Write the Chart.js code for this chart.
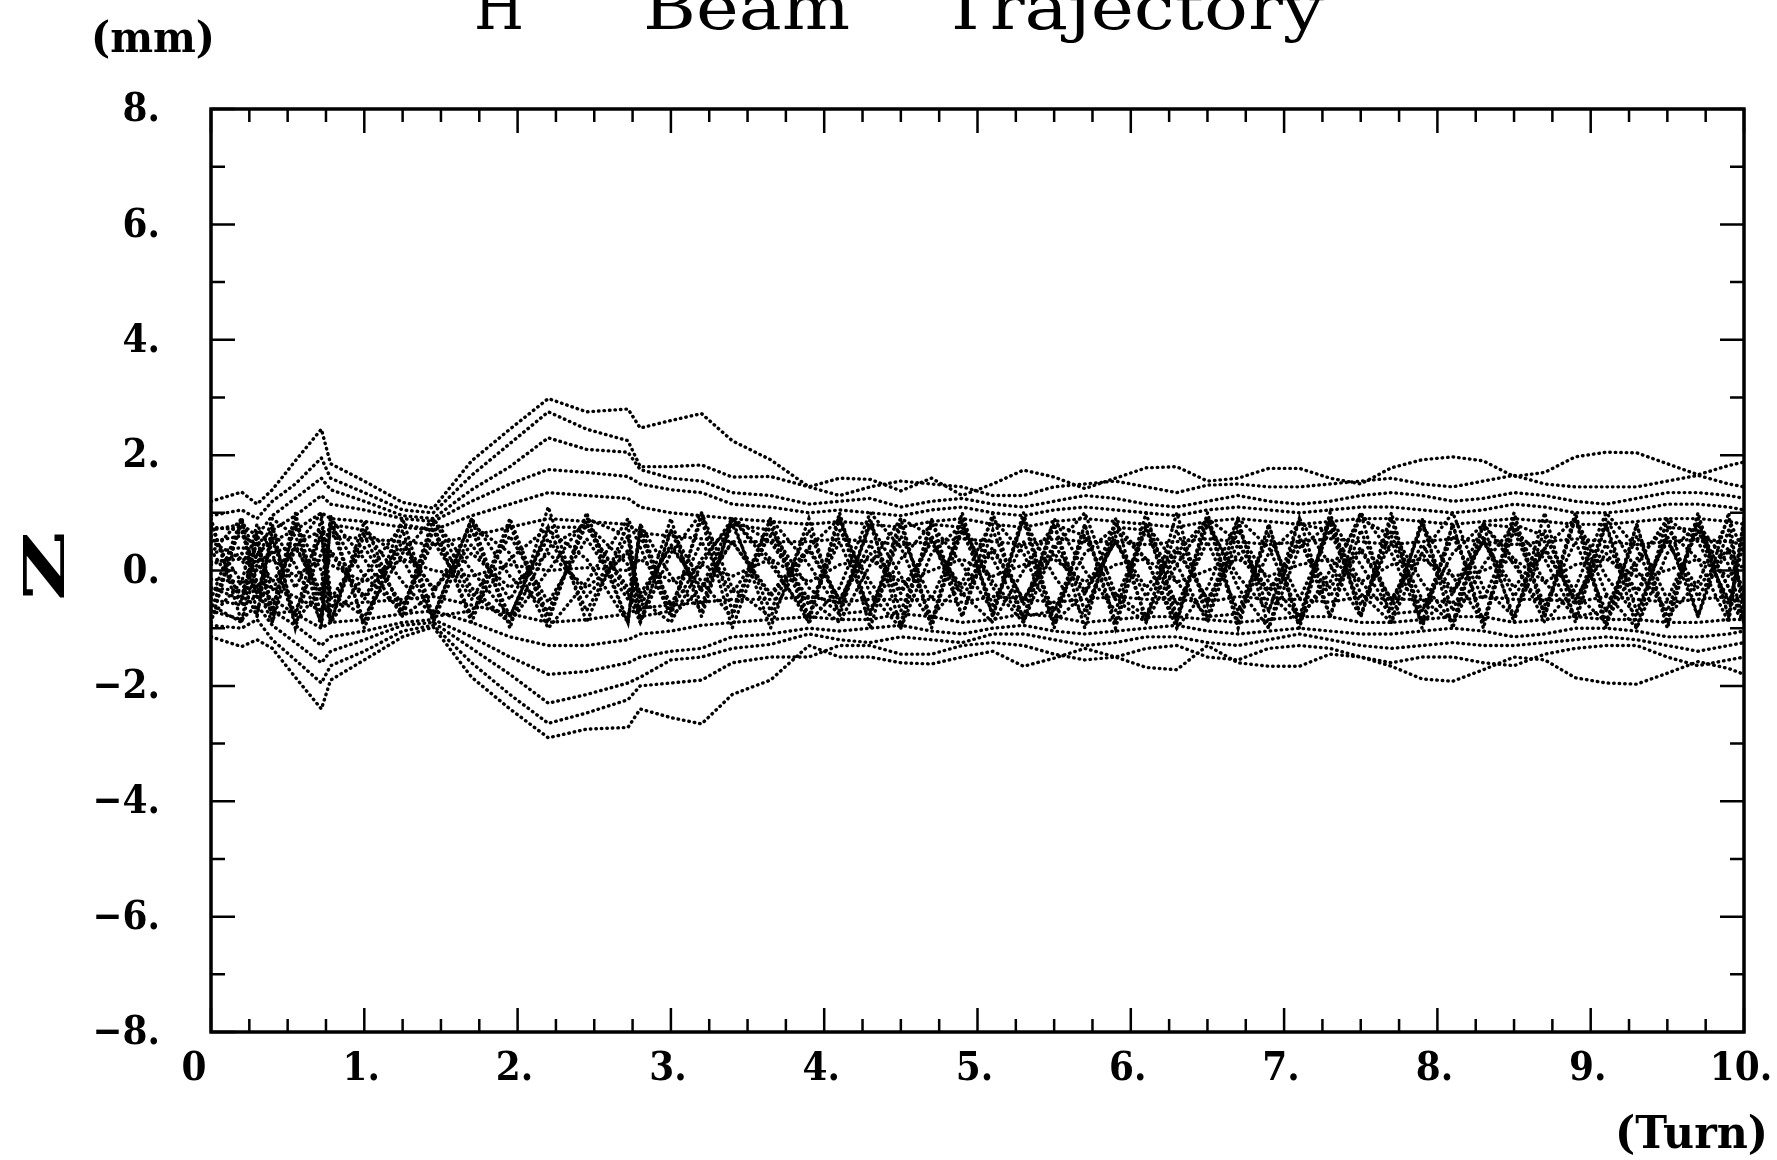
<!DOCTYPE html>
<html>
<head>
<meta charset="utf-8">
<script src="https://cdn.jsdelivr.net/npm/chart.js@4.4.1/dist/chart.umd.min.js"></script>
<style>
html,body{margin:0;padding:0;background:#fff;overflow:hidden;}
canvas{display:block;}
</style>
</head>
<body>
<canvas id="c" width="1777" height="1160"></canvas>
<script>
// ---- data ----
const turns = [0, 0.2, 0.3, 0.4, 0.55, 0.72, 0.78, 1.0, 1.25, 1.45,
  1.7, 1.95, 2.2, 2.45, 2.72, 2.8, 3.0, 3.2, 3.4, 3.65,
  3.9, 4.1, 4.3, 4.5, 4.7, 4.9, 5.1, 5.3, 5.5, 5.7,
  5.9, 6.1, 6.3, 6.5, 6.7, 6.9, 7.1, 7.3, 7.5, 7.7,
  7.9, 8.1, 8.3, 8.5, 8.7, 8.9, 9.1, 9.3, 9.5, 9.7,
  9.9, 10.0];

const upper1 = [1.2, 1.36, 1.15, 1.4, 1.9, 2.45, 1.85, 1.55, 1.18, 1.08,
  1.9, 2.45, 2.98, 2.75, 2.8, 2.47, 2.6, 2.72, 2.25, 1.92,
  1.45, 1.6, 1.58, 1.38, 1.6, 1.3, 1.5, 1.74, 1.62, 1.42,
  1.6, 1.78, 1.8, 1.55, 1.6, 1.77, 1.77, 1.6, 1.5, 1.78,
  1.92, 1.97, 1.9, 1.63, 1.7, 1.97, 2.05, 2.04, 1.85, 1.66,
  1.82, 1.88];
const lower1 = [-1.15, -1.32, -1.2, -1.35, -1.85, -2.4, -1.9, -1.55, -1.15, -0.98,
  -1.85, -2.4, -2.9, -2.75, -2.72, -2.4, -2.55, -2.66, -2.15, -1.9,
  -1.3, -1.5, -1.5, -1.6, -1.62, -1.5, -1.4, -1.66, -1.52, -1.35,
  -1.5, -1.68, -1.72, -1.3, -1.6, -1.66, -1.66, -1.45, -1.5, -1.66,
  -1.88, -1.92, -1.72, -1.5, -1.55, -1.86, -1.95, -1.97, -1.78, -1.58,
  -1.7, -1.8];
const upper2 = [0.95, 1.05, 0.9, 1.2, 1.5, 1.95, 1.6, 1.35, 1.05, 1.0,
  1.65, 2.2, 2.75, 2.45, 2.25, 1.8, 1.8, 1.83, 1.62, 1.63,
  1.45, 1.3, 1.45, 1.55, 1.5, 1.45, 1.3, 1.3, 1.45, 1.5,
  1.55, 1.45, 1.35, 1.48, 1.5, 1.45, 1.45, 1.5, 1.55, 1.6,
  1.5, 1.45, 1.55, 1.65, 1.5, 1.45, 1.45, 1.45, 1.55, 1.65,
  1.5, 1.45];
const lower2 = [-0.95, -1.0, -0.85, -1.2, -1.55, -1.95, -1.65, -1.4, -1.05, -0.95,
  -1.6, -2.15, -2.65, -2.47, -2.24, -2.0, -1.95, -1.9, -1.6, -1.5,
  -1.5, -1.3, -1.3, -1.45, -1.45, -1.3, -1.25, -1.3, -1.45, -1.55,
  -1.5, -1.35, -1.3, -1.5, -1.55, -1.35, -1.3, -1.35, -1.5, -1.6,
  -1.5, -1.5, -1.6, -1.65, -1.45, -1.35, -1.3, -1.3, -1.5, -1.65,
  -1.55, -1.5];
const upper3 = [0.7, 0.8, 0.6, 0.95, 1.25, 1.6, 1.4, 1.2, 0.95, 0.9,
  1.4, 1.8, 2.3, 2.1, 2.05, 1.75, 1.6, 1.55, 1.35, 1.3,
  1.15, 1.2, 1.25, 1.1, 1.2, 1.25, 1.15, 1.1, 1.2, 1.3,
  1.25, 1.15, 1.1, 1.2, 1.3, 1.2, 1.15, 1.2, 1.3, 1.35,
  1.3, 1.2, 1.25, 1.35, 1.3, 1.2, 1.15, 1.25, 1.35, 1.35,
  1.3, 1.25];
const lower3 = [-0.7, -0.85, -0.6, -0.95, -1.25, -1.6, -1.4, -1.2, -0.95, -0.9,
  -1.35, -1.8, -2.3, -2.15, -1.95, -1.85, -1.55, -1.5, -1.35, -1.28,
  -1.1, -1.2, -1.25, -1.15, -1.2, -1.25, -1.1, -1.1, -1.2, -1.3,
  -1.25, -1.15, -1.15, -1.25, -1.3, -1.2, -1.1, -1.2, -1.3, -1.35,
  -1.3, -1.25, -1.3, -1.3, -1.25, -1.2, -1.15, -1.2, -1.3, -1.4,
  -1.3, -1.25];
const upper4 = [0.5, 0.6, 0.45, 0.7, 0.95, 1.3, 1.15, 1.05, 0.9, 0.85,
  1.2, 1.5, 1.75, 1.7, 1.63, 1.5, 1.4, 1.35, 1.15, 1.1,
  1.0, 1.05, 1.0, 0.95, 1.05, 1.1, 1.0, 0.95, 1.05, 1.1,
  1.05, 1.0, 0.95, 1.05, 1.1, 1.05, 1.0, 1.05, 1.1, 1.1,
  1.05, 1.0, 1.05, 1.15, 1.1, 1.0, 1.0, 1.05, 1.15, 1.15,
  1.1, 1.05];
const lower4 = [-0.5, -0.6, -0.45, -0.7, -0.95, -1.3, -1.15, -1.05, -0.9, -0.85,
  -1.15, -1.5, -1.8, -1.75, -1.6, -1.5, -1.4, -1.35, -1.15, -1.1,
  -1.0, -1.05, -1.0, -0.95, -1.05, -1.1, -1.0, -0.95, -1.05, -1.1,
  -1.05, -1.0, -0.95, -1.05, -1.1, -1.05, -1.0, -1.05, -1.1, -1.1,
  -1.05, -1.0, -1.05, -1.15, -1.1, -1.0, -1.0, -1.05, -1.15, -1.15,
  -1.1, -1.05];
const upper5 = [0.3, 0.4, 0.3, 0.5, 0.7, 1.0, 0.9, 0.85, 0.75, 0.7,
  0.95, 1.15, 1.35, 1.3, 1.25, 1.1, 1.0, 0.95, 0.9, 0.85,
  0.8, 0.85, 0.8, 0.75, 0.85, 0.9, 0.8, 0.75, 0.85, 0.9,
  0.85, 0.8, 0.75, 0.85, 0.9, 0.85, 0.8, 0.85, 0.9, 0.9,
  0.85, 0.8, 0.85, 0.9, 0.85, 0.8, 0.8, 0.85, 0.9, 0.9,
  0.85, 0.8];
const lower5 = [-0.3, -0.35, -0.3, -0.5, -0.75, -1.0, -0.9, -0.85, -0.75, -0.7,
  -0.9, -1.15, -1.3, -1.3, -1.2, -1.1, -1.05, -0.95, -0.9, -0.85,
  -0.8, -0.85, -0.85, -0.75, -0.8, -0.9, -0.85, -0.75, -0.8, -0.9,
  -0.85, -0.8, -0.8, -0.85, -0.9, -0.85, -0.8, -0.8, -0.9, -0.9,
  -0.85, -0.8, -0.8, -0.9, -0.85, -0.8, -0.85, -0.85, -0.9, -0.9,
  -0.85, -0.85];
const upper6 = [0.15, 0.2, 0.15, 0.3, 0.45, 0.7, 0.6, 0.55, 0.5, 0.45,
  0.6, 0.75, 0.9, 0.85, 0.8, 0.65, 0.6, 0.55, 0.5, 0.5,
  0.5, 0.55, 0.5, 0.45, 0.5, 0.55, 0.5, 0.45, 0.55, 0.5,
  0.5, 0.45, 0.5, 0.55, 0.5, 0.45, 0.5, 0.55, 0.5, 0.45,
  0.5, 0.55, 0.5, 0.45, 0.5, 0.55, 0.5, 0.45, 0.5, 0.55,
  0.5, 0.45];
const lower6 = [-0.15, -0.2, -0.2, -0.3, -0.45, -0.7, -0.6, -0.55, -0.5, -0.45,
  -0.6, -0.75, -0.9, -0.85, -0.75, -0.65, -0.6, -0.55, -0.5, -0.5,
  -0.45, -0.55, -0.5, -0.5, -0.5, -0.55, -0.45, -0.5, -0.55, -0.5,
  -0.45, -0.5, -0.5, -0.55, -0.45, -0.5, -0.5, -0.55, -0.45, -0.5,
  -0.5, -0.55, -0.45, -0.5, -0.5, -0.55, -0.45, -0.5, -0.55, -0.5,
  -0.45, -0.5];

const core1 = [0.8, -0.6, 0.7, -0.9, 0.9, -1.0, 0.8, -0.9, 0.9, -0.8,
  0.9, -1.0, 1.1, -0.9, 0.8, -0.7, 0.9, -0.8, 0.9, -1.0,
  0.9, -0.8, 0.9, -1.0, 0.9, -0.8, 1.0, -0.9, 0.8, -1.0,
  0.9, -0.9, 1.0, -0.8, 0.9, -1.0, 0.9, -0.8, 1.0, -0.9,
  0.9, -1.0, 0.8, -0.9, 1.0, -0.9, 0.8, -1.0, 0.9, -0.8,
  1.0, -0.9];
const core2 = [-0.7, 0.8, -0.5, 0.6, -0.8, 0.9, -0.7, 0.6, -0.7, 0.8,
  -0.9, 0.8, -0.9, 1.0, -0.9, 0.8, -0.7, 0.9, -1.0, 0.8,
  -0.9, 1.0, -0.8, 0.9, -1.0, 0.9, -0.8, 1.0, -0.9, 0.8,
  -1.0, 0.8, -0.9, 1.0, -0.9, 0.8, -1.0, 0.9, -0.8, 1.0,
  -0.9, 0.8, -1.0, 0.9, -0.8, 1.0, -0.9, 0.8, -1.0, 0.9,
  -0.8, 0.9];
const core3 = [0.5, 0.2, -0.4, 0.5, -0.3, 0.6, -0.5, 0.4, -0.6, 0.5,
  -0.5, 0.6, -0.55, 0.55, -0.5, 0.6, -0.6, 0.5, -0.4, 0.6,
  -0.6, 0.5, -0.7, 0.6, -0.5, 0.7, -0.6, 0.5, -0.7, 0.6,
  -0.5, 0.7, -0.6, 0.5, -0.7, 0.6, -0.5, 0.7, -0.6, 0.5,
  -0.7, 0.6, -0.5, 0.7, -0.6, 0.5, -0.7, 0.6, -0.5, 0.7,
  -0.6, 0.5];
const core4 = [-0.3, -0.5, 0.3, -0.2, 0.4, -0.4, 0.3, -0.5, 0.4, -0.3,
  0.3, -0.3, 0.3, -0.3, 0.3, -0.4, 0.4, -0.3, 0.5, -0.4,
  0.4, -0.5, 0.3, -0.4, 0.5, -0.3, 0.4, -0.5, 0.3, -0.4,
  0.5, -0.3, 0.4, -0.5, 0.3, -0.4, 0.5, -0.3, 0.4, -0.5,
  0.3, -0.4, 0.5, -0.3, 0.4, -0.5, 0.3, -0.4, 0.5, -0.3,
  0.4, -0.4];
const core5 = [0.1, 0.3, 0.0, 0.2, -0.1, 0.2, 0.1, -0.2, 0.2, 0.0,
  -0.1, 0.1, 0.0, 0.05, 0.0, 0.2, -0.2, 0.1, -0.1, 0.2,
  -0.2, 0.1, 0.2, -0.2, 0.0, 0.2, -0.1, 0.1, 0.2, -0.2,
  0.1, 0.2, -0.2, 0.0, 0.2, -0.1, 0.1, 0.2, -0.2, 0.1,
  0.2, -0.1, 0.0, 0.2, -0.2, 0.1, 0.2, -0.1, 0.0, 0.2,
  -0.1, 0.1];
const core6 = [0.9, -0.9, 0.6, -0.7, 1.0, -0.8, 0.95, -1.0, 0.7, -0.9,
  0.7, -0.8, 0.75, -0.7, 0.6, -0.9, 0.7, -0.6, 0.8, -0.7,
  0.7, -0.6, 0.8, -0.7, 0.6, -0.8, 0.7, -0.6, 0.8, -0.7,
  0.6, -0.8, 0.7, -0.6, 0.8, -0.7, 0.6, -0.8, 0.7, -0.6,
  0.8, -0.7, 0.6, -0.8, 0.7, -0.6, 0.8, -0.7, 0.6, -0.8,
  0.7, -0.6];
const core7 = [-0.9, 0.9, -0.8, 0.8, -1.0, 0.7, -0.9, 0.85, -0.8, 0.7,
  -0.8, 0.9, -0.8, 0.85, -0.9, 0.7, -0.8, 1.0, -0.7, 0.9,
  -0.8, 0.9, -1.0, 0.8, -0.9, 1.0, -0.8, 0.9, -1.0, 0.8,
  -0.9, 1.0, -0.8, 0.9, -1.0, 0.8, -0.9, 1.0, -0.8, 0.9,
  -1.0, 0.8, -0.9, 1.0, -0.8, 0.9, -1.0, 0.8, -0.9, 1.0,
  -0.8, 0.9];
const core8 = [0.6, -0.2, -0.8, 0.7, 0.1, -0.9, 0.8, -0.1, -0.7, 0.9,
  0.0, -0.8, 0.7, 0.2, -0.9, 0.8, -0.1, -0.7, 0.9, 0.1,
  -0.8, 0.7, -0.2, -0.9, 0.8, 0.1, -0.7, 0.9, -0.1, -0.8,
  0.7, 0.2, -0.9, 0.8, -0.1, -0.7, 0.9, 0.1, -0.8, 0.7,
  -0.2, -0.9, 0.8, 0.1, -0.7, 0.9, -0.1, -0.8, 0.7, 0.2,
  -0.9, 0.8];
const core9 = [-0.5, 0.9, 0.2, -0.7, 0.8, 0.0, -0.9, 0.7, 0.2, -0.8,
  0.9, -0.1, -0.7, 0.8, 0.1, -0.9, 0.7, -0.2, -0.8, 0.9,
  0.1, -0.7, 0.8, -0.1, -0.9, 0.7, 0.2, -0.8, 0.9, 0.0,
  -0.7, 0.8, 0.1, -0.9, 0.7, -0.2, -0.8, 0.9, 0.1, -0.7,
  0.8, -0.1, -0.9, 0.7, 0.2, -0.8, 0.9, 0.0, -0.7, 0.8,
  0.1, -0.9];
const core10 = [0.3, 0.9, -0.3, -0.9, 0.4, 1.0, -0.4, -0.8, 0.3, 0.9,
  -0.3, -0.9, 0.4, 0.8, -0.4, -0.9, 0.3, 1.0, -0.3, -0.8,
  0.4, 0.9, -0.4, -1.0, 0.3, 0.8, -0.3, -0.9, 0.4, 1.0,
  -0.4, -0.8, 0.3, 0.9, -0.3, -1.0, 0.4, 0.8, -0.4, -0.9,
  0.3, 1.0, -0.3, -0.8, 0.4, 0.9, -0.4, -1.0, 0.3, 0.8,
  -0.3, -0.9];
const core11 = [-0.8, -0.2, 0.8, 0.3, -0.9, -0.3, 0.9, 0.2, -0.8, -0.4,
  0.8, 0.3, -1.0, -0.2, 0.9, 0.4, -0.8, -0.3, 0.9, 0.2,
  -0.9, -0.3, 1.0, 0.4, -0.8, -0.2, 0.9, 0.3, -0.9, -0.4,
  0.8, 0.2, -1.0, -0.3, 0.9, 0.4, -0.8, -0.2, 1.0, 0.3,
  -0.9, -0.4, 0.8, 0.2, -0.9, -0.3, 1.0, 0.4, -0.8, -0.2,
  0.9, 0.3];
const core12 = [0.35, -0.45, 0.5, -0.35, 0.45, -0.5, 0.35, -0.45, 0.5, -0.35,
  0.45, -0.5, 0.55, -0.45, 0.35, -0.5, 0.45, -0.35, 0.5, -0.45,
  0.35, -0.5, 0.45, -0.35, 0.5, -0.45, 0.35, -0.5, 0.45, -0.35,
  0.5, -0.45, 0.35, -0.5, 0.45, -0.35, 0.5, -0.45, 0.35, -0.5,
  0.45, -0.35, 0.5, -0.45, 0.35, -0.5, 0.45, -0.35, 0.5, -0.45,
  0.35, -0.5];
const core13 = [0.75, 0.7, -0.2, -0.75, -0.7, 0.3, 0.8, 0.7, -0.2, -0.8,
  -0.7, 0.2, 0.75, 0.75, -0.3, -0.8, -0.7, 0.2, 0.8, 0.7,
  -0.3, -0.75, -0.7, 0.2, 0.8, 0.75, -0.2, -0.8, -0.7, 0.3,
  0.75, 0.7, -0.2, -0.8, -0.75, 0.3, 0.8, 0.7, -0.2, -0.75,
  -0.7, 0.3, 0.8, 0.75, -0.2, -0.8, -0.7, 0.2, 0.75, 0.7,
  -0.3, -0.8];
const core14 = [-0.6, -0.9, 0.1, 0.9, 0.6, -0.4, -0.9, -0.1, 0.8, 0.7,
  -0.4, -0.9, 0.0, 0.9, 0.6, -0.5, -0.9, 0.1, 0.9, 0.5,
  -0.5, -0.9, 0.1, 0.9, 0.6, -0.4, -0.9, 0.0, 0.8, 0.6,
  -0.5, -0.9, 0.1, 0.9, 0.5, -0.4, -0.9, 0.0, 0.9, 0.6,
  -0.5, -0.9, 0.1, 0.8, 0.6, -0.4, -0.9, 0.1, 0.9, 0.5,
  -0.5, -0.9];

const xTickValues = [0, 1, 2, 3, 4, 5, 6, 7, 8, 9, 10];
const xTickLabels = ["0", "1.", "2.", "3.", "4.", "5.", "6.", "7.", "8.", "9.", "10."];
const yTickValues = [8, 6, 4, 2, 0, -2, -4, -6, -8];
const yTickLabels = ["8.", "6.", "4.", "2.", "0.", "\u22122.", "\u22124.", "\u22126.", "\u22128."];

const traces = [upper1, lower1, upper2, lower2, upper3, lower3, upper4, lower4,
  upper5, lower5, upper6, lower6,
  core1, core2, core3, core4, core5, core6, core7, core8, core9, core10,
  core11, core12, core13, core14];

const datasets = traces.map(ys => ({
  data: ys.map((y, i) => ({x: turns[i], y: y})),
  borderColor: '#000',
  borderWidth: 3.4,
  borderDash: [0.5, 5],
  borderCapStyle: 'round',
  pointRadius: 0,
  tension: 0,
  fill: false
}));

const SERIF = '"DejaVu Serif", "Liberation Serif", serif';

function fitText(ctx, txt, font, left, baseline, width) {
  ctx.save();
  ctx.font = font;
  ctx.textAlign = 'left';
  ctx.textBaseline = 'alphabetic';
  const w = ctx.measureText(txt).width;
  ctx.translate(left, baseline);
  ctx.scale(width / w, 1);
  ctx.fillText(txt, 0, 0);
  ctx.restore();
}

function scaledLabel(ctx, txt, x, y, sx, align) {
  ctx.save();
  ctx.translate(x, y);
  ctx.scale(sx, 1);
  ctx.textAlign = align;
  ctx.textBaseline = 'middle';
  ctx.fillText(txt, 0, 0);
  ctx.restore();
}

const framePlugin = {
  id: 'frame',
  afterDraw(chart) {
    const ctx = chart.ctx;
    const a = chart.chartArea;
    const xs = chart.scales.x, ys = chart.scales.y;
    ctx.save();
    ctx.fillStyle = '#000';
    ctx.strokeStyle = '#000';
    // ticks
    ctx.lineWidth = 2.5;
    for (let k = 0; k <= 40; k++) {
      const v = k * 0.25;
      const px = xs.getPixelForValue(v);
      const len = (k % 4 === 0) ? 24 : 13;
      ctx.beginPath();
      ctx.moveTo(px, a.bottom); ctx.lineTo(px, a.bottom - len);
      ctx.moveTo(px, a.top); ctx.lineTo(px, a.top + len);
      ctx.stroke();
    }
    for (let v = -8; v <= 8; v++) {
      const py = ys.getPixelForValue(v);
      const len = (v % 2 === 0) ? 24 : 14;
      ctx.beginPath();
      ctx.moveTo(a.left, py); ctx.lineTo(a.left + len, py);
      ctx.moveTo(a.right, py); ctx.lineTo(a.right - len, py);
      ctx.stroke();
    }
    // frame
    ctx.lineWidth = 3.5;
    ctx.strokeRect(a.left, a.top, a.right - a.left, a.bottom - a.top);

    // tick labels
    ctx.font = 'bold 39px ' + SERIF;
    yTickValues.forEach((v, i) => {
      scaledLabel(ctx, yTickLabels[i], 160, ys.getPixelForValue(v) + 2, 0.92, 'right');
    });
    xTickValues.forEach((v, i) => {
      let px = xs.getPixelForValue(v) - 3;
      if (i === 0) px = 194;
      scaledLabel(ctx, xTickLabels[i], px, 1070, 0.92, 'center');
    });

    // titles
    fitText(ctx, 'H', '62px ' + SERIF, 474, 29, 50);
    ctx.font = '34px ' + SERIF;
    ctx.textAlign = 'left';
    ctx.textBaseline = 'alphabetic';
    ctx.fillText('\u207B', 527, -10);
    fitText(ctx, 'Beam', '62px ' + SERIF, 643, 29, 207);
    fitText(ctx, 'Trajectory', '62px ' + SERIF, 941, 29, 383);
    fitText(ctx, '(mm)', 'bold 42px ' + SERIF, 91, 52, 124);
    fitText(ctx, '(Turn)', 'bold 44px ' + SERIF, 1615, 1148, 153);
    // rotated Z
    ctx.save();
    ctx.translate(64, 566);
    ctx.rotate(-Math.PI / 2);
    ctx.font = 'bold 56px ' + SERIF;
    const zw = ctx.measureText('Z').width;
    ctx.scale(70 / zw, 1);
    ctx.textAlign = 'center';
    ctx.textBaseline = 'alphabetic';
    ctx.fillText('Z', 0, 0);
    ctx.restore();
    ctx.restore();
  }
};

new Chart(document.getElementById('c'), {
  type: 'line',
  data: {datasets: datasets},
  options: {
    responsive: false,
    devicePixelRatio: 1,
    animation: false,
    events: [],
    layout: {padding: {left: 211, right: 33, top: 109, bottom: 128}},
    plugins: {legend: {display: false}, tooltip: {enabled: false}, title: {display: false}},
    scales: {
      x: {type: 'linear', min: 0, max: 10, display: false},
      y: {type: 'linear', min: -8, max: 8, display: false}
    }
  },
  plugins: [framePlugin]
});
</script>
</body>
</html>
